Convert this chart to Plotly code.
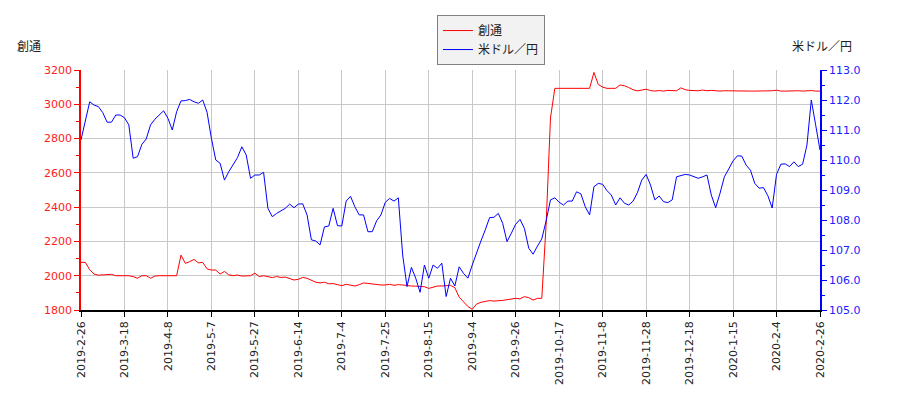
import plotly.graph_objects as go

tick_dates = ["2019-2-26", "2019-3-18", "2019-4-8", "2019-5-7", "2019-5-27", "2019-6-14",
              "2019-7-4", "2019-7-25", "2019-8-15", "2019-9-4", "2019-9-26", "2019-10-17",
              "2019-11-8", "2019-11-28", "2019-12-18", "2020-1-15", "2020-2-4", "2020-2-26"]

soutsu = [2078, 2078, 2035, 2010, 2003, 2004, 2004, 2008, 2000, 2000,
          2000, 2000, 1995, 1985, 2000, 2000, 1985, 1998, 2000, 2000,
          1996, 2000, 2000, 2120, 2072, 2082, 2095, 2075, 2078, 2040,
          2033, 2033, 2010, 2025, 2005, 2000, 2004, 1998, 2000, 2000,
          2015, 1995, 2000, 1995, 1989, 1995, 1990, 1992, 1983, 1975,
          1979, 1990, 1985, 1972, 1962, 1958, 1962, 1953, 1954, 1948,
          1942, 1950, 1944, 1940, 1948, 1958, 1955, 1952, 1946, 1946,
          1946, 1950, 1944, 1948, 1946, 1942, 1940, 1939, 1936, 1936,
          1926, 1934, 1940, 1940, 1940, 1944, 1930, 1875, 1848, 1820,
          1804, 1835, 1845, 1852, 1855, 1852, 1853, 1856, 1860, 1866,
          1868, 1865, 1878, 1872, 1858, 1868, 1868, 2300, 2920, 3093,
          3093, 3093, 3093, 3093, 3093, 3093, 3093, 3093, 3186, 3115,
          3100, 3093, 3093, 3093, 3113, 3108, 3098, 3085, 3078, 3083,
          3088, 3080, 3077, 3080, 3077, 3081, 3081, 3079, 3096, 3085,
          3081, 3080, 3079, 3083, 3079, 3081, 3078, 3077, 3079, 3078,
          3077, 3078, 3079, 3077, 3077, 3077, 3077, 3077, 3078, 3079,
          3082, 3077, 3077, 3078, 3080, 3079, 3077, 3079, 3080, 3077,
          3077]

usdjpy = [110.67, 111.28, 111.94, 111.83, 111.78, 111.58, 111.26, 111.26, 111.5, 111.5,
          111.41, 111.17, 110.06, 110.11, 110.52, 110.7, 111.17, 111.36, 111.5, 111.64,
          111.39, 111.0, 111.61, 111.97, 111.98, 112.02, 111.94, 111.89, 112.0, 111.59,
          110.72, 110.0, 109.89, 109.33, 109.61, 109.83, 110.08, 110.44, 110.17, 109.39,
          109.5, 109.5, 109.59, 108.39, 108.11, 108.22, 108.3, 108.39, 108.53, 108.41,
          108.53, 108.54, 108.17, 107.34, 107.3, 107.17, 107.77, 107.8, 108.39, 107.81,
          107.8, 108.63, 108.79, 108.44, 108.17, 108.17, 107.61, 107.61, 107.97, 108.17,
          108.59, 108.72, 108.63, 108.74, 106.83, 105.78, 106.42, 106.06, 105.59, 106.5,
          106.06, 106.5, 106.39, 106.56, 105.45, 106.06, 105.8, 106.44, 106.22, 106.06,
          106.5, 106.92, 107.3, 107.67, 108.08, 108.09, 108.22, 107.89, 107.28, 107.56,
          107.86, 108.02, 107.72, 107.06, 106.86, 107.13, 107.37, 107.97, 108.67, 108.74,
          108.59, 108.5, 108.63, 108.63, 108.94, 108.87, 108.44, 108.17, 109.11, 109.22,
          109.19, 108.98, 108.83, 108.5, 108.74, 108.56, 108.5, 108.63, 108.91, 109.33,
          109.52, 109.17, 108.67, 108.8, 108.61, 108.58, 108.67, 109.44, 109.47, 109.52,
          109.5, 109.44, 109.39, 109.44, 109.5, 108.83, 108.41, 108.89, 109.44, 109.7,
          109.97, 110.14, 110.13, 109.83, 109.66, 109.22, 109.06, 109.08, 108.81, 108.4,
          109.52, 109.86, 109.87, 109.78, 109.94, 109.78, 109.86, 110.5, 112.0, 111.17,
          110.33]

n = len(soutsu)
xs = list(range(n))
step = (n - 1) / (len(tick_dates) - 1)
tickvals = [i * step for i in range(len(tick_dates))]

font_ja = "Noto Sans CJK JP, DejaVu Sans, sans-serif"
font_tk = "DejaVu Sans, sans-serif"

fig = go.Figure()
fig.add_trace(go.Scatter(x=xs, y=soutsu, name="創通", mode="lines",
                         line=dict(color="#ff0000", width=1), yaxis="y"))
fig.add_trace(go.Scatter(x=xs, y=usdjpy, name="米ドル／円", mode="lines",
                         line=dict(color="#0000ff", width=1), yaxis="y2"))

fig.update_layout(
    width=900, height=400,
    margin=dict(l=73, r=88, t=62, b=98, autoexpand=False),
    paper_bgcolor="white", plot_bgcolor="white",
    showlegend=True,
    legend=dict(x=0.4817, y=1.229, xanchor="left", yanchor="top",
                bgcolor="#f2f2f2", bordercolor="#808080", borderwidth=1,
                font=dict(family=font_ja, size=12, color="#222"),
                itemwidth=30, tracegroupgap=0),
    xaxis=dict(range=[0, n - 1], tickmode="array", tickvals=tickvals, ticktext=tick_dates,
               tickangle=-90, showgrid=True, gridcolor="#c8c8c8", gridwidth=1,
               showline=True, linecolor="black", linewidth=1.5,
               ticks="outside", ticklen=5, tickcolor="black",
               tickfont=dict(family=font_tk, size=11, color="#222"), zeroline=False),
    yaxis=dict(range=[1800, 3200], dtick=200, tick0=1800, showgrid=True, gridcolor="#c8c8c8",
               showline=True, linecolor="red", linewidth=1.5,
               ticks="outside", ticklen=5, tickcolor="red",
               tickfont=dict(family=font_tk, size=11, color="#ff2020"),
               minor=dict(dtick=100, ticks="outside", ticklen=3, tickcolor="red", showgrid=False),
               zeroline=False),
    yaxis2=dict(range=[105, 113], dtick=1, tick0=105, tickformat=".1f", overlaying="y", side="right",
                showgrid=False, showline=True, linecolor="blue", linewidth=1.5,
                ticks="outside", ticklen=5, tickcolor="blue",
                tickfont=dict(family=font_tk, size=11, color="#2020ff"),
                minor=dict(dtick=0.5, ticks="outside", ticklen=3, tickcolor="blue", showgrid=False),
                zeroline=False),
    annotations=[
        dict(text="創通", xref="paper", yref="paper", x=-0.0514, y=1.1, xanchor="right",
             yanchor="middle", showarrow=False, font=dict(family=font_ja, size=12, color="#222")),
        dict(text="米ドル／円", xref="paper", yref="paper", x=0.959, y=1.1, xanchor="left",
             yanchor="middle", showarrow=False, font=dict(family=font_ja, size=12, color="#222")),
    ],
)

fig.write_html("out.html")
